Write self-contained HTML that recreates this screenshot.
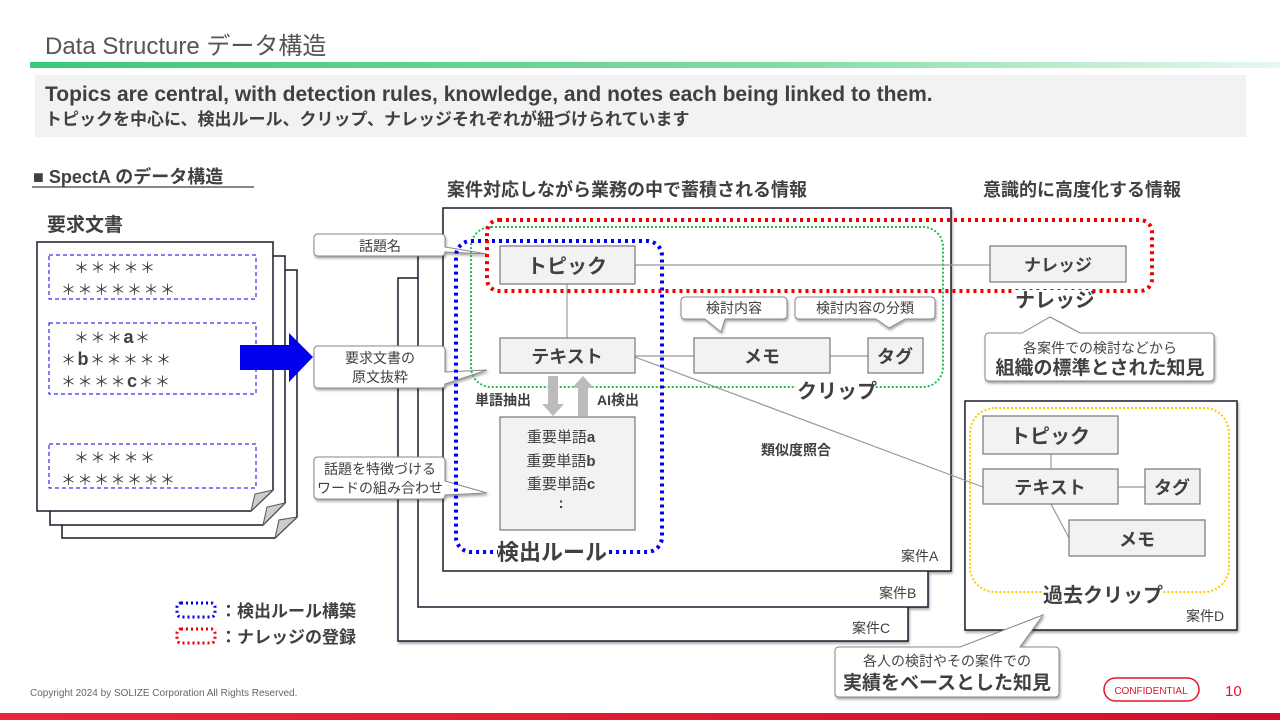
<!DOCTYPE html>
<html><head><meta charset="utf-8"><style>
body{margin:0;width:1280px;height:720px;overflow:hidden;background:#fff}
svg text{font-family:"Liberation Sans","Noto Sans CJK JP",sans-serif;fill:#404040}
.b{font-weight:bold}
</style></head><body>
<svg width="1280" height="720" viewBox="0 0 1280 720" xmlns="http://www.w3.org/2000/svg">
<defs>
<linearGradient id="g" x1="0" x2="1"><stop offset="0" stop-color="#3cc878"/><stop offset="0.6" stop-color="#7fdca4"/><stop offset="1" stop-color="#e8f8ee"/></linearGradient>
<linearGradient id="r" x1="0" x2="1"><stop offset="0" stop-color="#e8283c"/><stop offset="1" stop-color="#d0102a"/></linearGradient>
<filter id="sh"><feDropShadow dx="1" dy="2" stdDeviation="1.2" flood-color="#000" flood-opacity="0.35"/></filter>
</defs>
<text x="45" y="54" font-size="24" style="fill:#555">Data Structure  データ構造</text>
<rect x="30" y="62" width="1250" height="6" fill="url(#g)"/>
<rect x="35" y="75" width="1211" height="62" fill="#f2f2f2"/>
<text x="45" y="101" font-size="21" class="b">Topics are central, with detection rules, knowledge, and notes each being linked to them.</text>
<text x="45" y="125" font-size="17" class="b">トピックを中心に、検出ルール、クリップ、ナレッジそれぞれが紐づけられています</text>
<text x="33" y="183" font-size="18" class="b">■ SpectA のデータ構造</text>
<line x1="32" y1="187" x2="254" y2="187" stroke="#404040" stroke-width="1.3"/>
<text x="47" y="231" font-size="19" class="b">要求文書</text>
<g fill="#fff" stroke="#1a1a2e" stroke-width="1.5">
<path d="M62 270H297V517L275 538H62Z"/>
<path d="M50 256H285V503L263 525H50Z"/>
<path d="M37 242H273V490L251 511H37Z"/>
</g>
<g fill="#ccc" stroke="#555"><path d="M297 517L275 538L279 520Z"/><path d="M285 503L263 525L267 507Z"/><path d="M273 490L251 511L255 494Z"/></g>
<g fill="none" stroke="#0000ee" stroke-dasharray="4 3" stroke-width="1"><rect x="49" y="255" width="207" height="44"/><rect x="49" y="323" width="207" height="71"/><rect x="49" y="444" width="207" height="44"/></g>
<g font-size="15" style="fill:#444" letter-spacing="1.5">
<text x="74" y="273">＊＊＊＊＊</text><text x="61" y="295">＊＊＊＊＊＊＊</text>
<text x="74" y="343">＊＊＊<tspan class="b" font-size="18">a</tspan>＊</text><text x="61" y="365">＊<tspan class="b" font-size="18">b</tspan>＊＊＊＊＊</text><text x="61" y="387">＊＊＊＊<tspan class="b" font-size="18">c</tspan>＊＊</text>
<text x="74" y="463">＊＊＊＊＊</text><text x="61" y="485">＊＊＊＊＊＊＊</text>
</g>
<path d="M240 345H289V333L313 357L289 382V370H240Z" fill="#0000ee"/>
<g stroke="#1a1a2e" stroke-width="1.5" fill="#fff" filter="url(#sh)">
<rect x="398" y="278" width="510" height="363"/>
<rect x="418" y="243" width="510" height="364"/>
<rect x="443" y="208" width="508" height="363"/>
<rect x="965" y="401" width="272" height="229"/>
</g>
<g font-size="14" style="fill:#555"><text x="852" y="633">案件C</text><text x="879" y="598">案件B</text><text x="901" y="561">案件A</text><text x="1186" y="621">案件D</text></g>
<g fill="#fff" stroke="#888" filter="url(#sh)">
<path d="M318 234H441Q445 234 445 238V247L487 254L445 252V252Q445 256 441 256H318Q314 256 314 252V238Q314 234 318 234Z"/>
<path d="M318 346H441Q445 346 445 350V372L487 370L445 384Q445 388 441 388H318Q314 388 314 384V350Q314 346 318 346Z"/>
<path d="M318 457H441Q445 457 445 461V481L487 493L445 495Q445 499 441 499H318Q314 499 314 495V461Q314 457 318 457Z"/>
</g>
<g font-size="14" style="fill:#444" text-anchor="middle"><text x="380" y="251">話題名</text><text x="380" y="363">要求文書の</text><text x="380" y="382">原文抜粋</text><text x="380" y="474">話題を特徴づける</text><text x="380" y="493">ワードの組み合わせ</text></g>
<text x="447" y="196" font-size="18" class="b">案件対応しながら業務の中で蓄積される情報</text>
<text x="983" y="196" font-size="18" class="b">意識的に高度化する情報</text>
<g stroke="#999" stroke-width="1.2">
<line x1="635" y1="265" x2="990" y2="265"/><line x1="567" y1="284" x2="567" y2="338"/>
<line x1="635" y1="356" x2="694" y2="356"/><line x1="830" y1="356" x2="868" y2="356"/>
<line x1="635" y1="357" x2="983" y2="487"/>
<line x1="1051" y1="454" x2="1051" y2="469"/><line x1="1118" y1="487" x2="1145" y2="487"/><line x1="1051" y1="504" x2="1069" y2="538"/>
</g>
<rect x="471" y="227" width="472" height="160" rx="20" fill="none" stroke="#22bb55" stroke-width="2" stroke-dasharray="2 2"/>
<rect x="456" y="241" width="206" height="311" rx="15" fill="none" stroke="#0000ee" stroke-width="4" stroke-dasharray="3 4"/>
<rect x="487" y="220" width="665" height="71" rx="12" fill="none" stroke="#ee0000" stroke-width="4" stroke-dasharray="3 4"/>
<rect x="970" y="408" width="259" height="184" rx="25" fill="none" stroke="#ffcc00" stroke-width="2" stroke-dasharray="2 2"/>
<g fill="#f2f2f2" stroke="#777" stroke-width="1.2">
<rect x="500" y="246" width="135" height="38"/><rect x="500" y="338" width="135" height="35"/><rect x="500" y="417" width="135" height="113"/>
<rect x="694" y="338" width="136" height="35"/><rect x="868" y="338" width="55" height="35"/><rect x="990" y="246" width="136" height="36"/>
<rect x="983" y="416" width="135" height="38"/><rect x="983" y="469" width="135" height="35"/><rect x="1145" y="469" width="55" height="35"/><rect x="1069" y="520" width="136" height="36"/>
</g>
<g class="b" text-anchor="middle">
<text x="567" y="273" font-size="20" class="b">トピック</text><text x="567" y="363" font-size="18" class="b">テキスト</text>
<text x="762" y="363" font-size="18" class="b">メモ</text><text x="895" y="363" font-size="18" class="b">タグ</text><text x="1058" y="271" font-size="17" class="b">ナレッジ</text>
<text x="1050" y="443" font-size="20" class="b">トピック</text><text x="1050" y="494" font-size="18" class="b">テキスト</text>
<text x="1172" y="494" font-size="18" class="b">タグ</text><text x="1137" y="546" font-size="18" class="b">メモ</text>
</g>
<g font-size="15" text-anchor="middle" style="fill:#444"><text x="561" y="442">重要単語<tspan class="b">a</tspan></text><text x="561" y="466">重要単語<tspan class="b">b</tspan></text><text x="561" y="489">重要単語<tspan class="b">c</tspan></text><text x="561" y="508" class="b">:</text></g>
<path d="M548 376H558V404H564L553 416L542 404H548Z" fill="#bbb"/>
<path d="M578 416H588V388H594L583 376L572 388H578Z" fill="#bbb"/>
<text x="475" y="405" font-size="14" class="b">単語抽出</text><text x="597" y="405" font-size="14" class="b">AI検出</text>
<g fill="#fff" stroke="#888" filter="url(#sh)">
<path d="M685 297H783Q787 297 787 301V315Q787 319 783 319H725L721 332L705 319H685Q681 319 681 315V301Q681 297 685 297Z"/>
<path d="M799 297H931Q935 297 935 301V315Q935 319 931 319H905L889 328L876 319H799Q795 319 795 315V301Q795 297 799 297Z"/>
</g>
<g font-size="14" style="fill:#444" text-anchor="middle"><text x="734" y="313">検討内容</text><text x="865" y="313">検討内容の分類</text></g>
<g fill="#fff">
<rect x="796" y="379" width="74" height="20"/>
<rect x="498" y="542" width="108" height="20"/>
<rect x="1014" y="290" width="76" height="20"/>
<rect x="1042" y="584" width="120" height="20"/>
</g>
<text x="797" y="398" font-size="20" class="b">クリップ</text>
<text x="497" y="560" font-size="22" class="b">検出ルール</text>
<text x="1015" y="307" font-size="20" class="b">ナレッジ</text>
<text x="761" y="455" font-size="14" class="b">類似度照合</text>
<text x="1043" y="602" font-size="20" class="b">過去クリップ</text>
<g fill="#fff" stroke="#888" filter="url(#sh)">
<path d="M989 333H1022L1050 317L1080 333H1210Q1214 333 1214 337V377Q1214 381 1210 381H989Q985 381 985 377V337Q985 333 989 333Z"/>
<path d="M839 647H960L1043 615L1020 647H1055Q1059 647 1059 651V693Q1059 697 1055 697H839Q835 697 835 693V651Q835 647 839 647Z"/>
</g>
<g text-anchor="middle"><text x="1100" y="353" font-size="14" style="fill:#444">各案件での検討などから</text><text x="1100" y="374" font-size="19" class="b">組織の標準とされた知見</text>
<text x="947" y="666" font-size="14" style="fill:#444">各人の検討やその案件での</text><text x="947" y="689" font-size="19" class="b">実績をベースとした知見</text></g>
<rect x="177" y="603" width="38" height="14" rx="4" fill="none" stroke="#0000ee" stroke-width="3" stroke-dasharray="2 3"/>
<rect x="177" y="629" width="38" height="14" rx="4" fill="none" stroke="#ee0000" stroke-width="3" stroke-dasharray="2 3"/>
<text x="220" y="617" font-size="17" class="b">：検出ルール構築</text><text x="220" y="643" font-size="17" class="b">：ナレッジの登録</text>
<text x="30" y="696" font-size="10" style="fill:#666">Copyright 2024 by SOLIZE Corporation All Rights Reserved.</text>
<rect x="1104" y="678" width="95" height="23" rx="11.5" fill="#fff" stroke="#e0162b" stroke-width="1.5"/>
<text x="1151" y="694" font-size="10" text-anchor="middle" style="fill:#e0162b">CONFIDENTIAL</text>
<text x="1225" y="696" font-size="15" style="fill:#e0162b">10</text>
<rect x="0" y="713" width="1280" height="7" fill="url(#r)"/>
</svg>
</body></html>
